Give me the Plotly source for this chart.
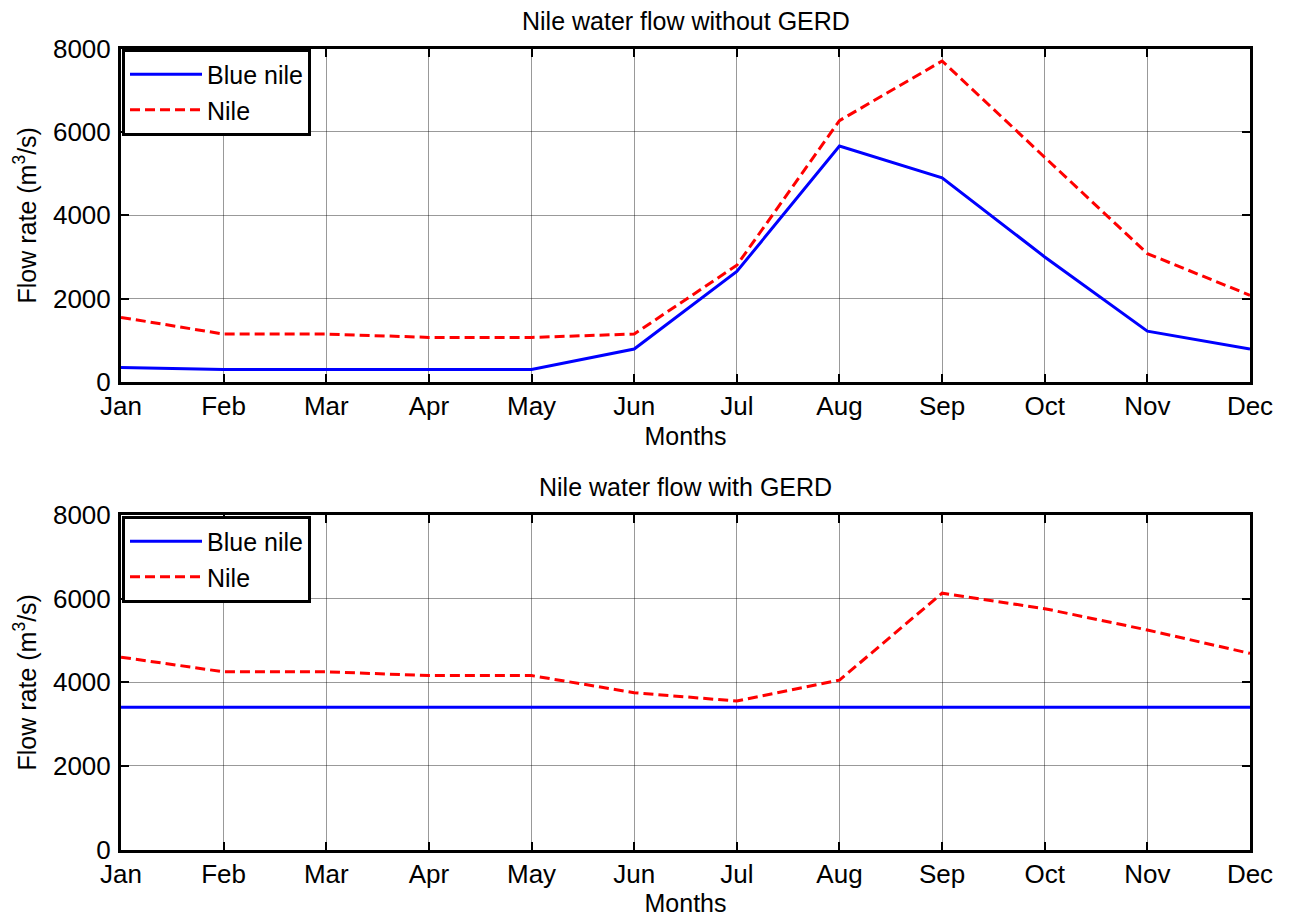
import plotly.graph_objects as go

months = ["Jan", "Feb", "Mar", "Apr", "May", "Jun", "Jul", "Aug", "Sep", "Oct", "Nov", "Dec"]

# Without GERD
blue_without = [350, 300, 300, 300, 300, 790, 2650, 5660, 4900, 3000, 1220, 790]
nile_without = [1550, 1150, 1150, 1070, 1070, 1150, 2800, 6270, 7700, 5400, 3080, 2080]

# With GERD
blue_with = [3400, 3400, 3400, 3400, 3400, 3400, 3400, 3400, 3400, 3400, 3400, 3400]
nile_with = [4600, 4250, 4250, 4160, 4160, 3750, 3550, 4050, 6130, 5760, 5250, 4690]

titles = ["Nile water flow without GERD", "Nile water flow with GERD"]
y_ticks = [0, 2000, 4000, 6000, 8000]

W, H = 1293, 917
FONT = "Liberation Sans, Arial, sans-serif"
FS = 25
TFS = 26

def px_x(p):
    return p / W

def px_y(p):
    return 1 - p / H

fig = go.Figure()

blue_style = dict(color="#0000FF", width=3)
red_style = dict(color="#FF0000", width=3, dash="10px,5px")

fig.add_trace(go.Scatter(x=months, y=blue_without, mode="lines", name="Blue nile",
                         line=blue_style, xaxis="x", yaxis="y", legend="legend"))
fig.add_trace(go.Scatter(x=months, y=nile_without, mode="lines", name="Nile",
                         line=red_style, xaxis="x", yaxis="y", legend="legend"))
fig.add_trace(go.Scatter(x=months, y=blue_with, mode="lines", name="Blue nile",
                         line=blue_style, xaxis="x2", yaxis="y2", legend="legend2"))
fig.add_trace(go.Scatter(x=months, y=nile_with, mode="lines", name="Nile",
                         line=red_style, xaxis="x2", yaxis="y2", legend="legend2"))

x_dom = [px_x(121), px_x(1250)]
y_dom_top = [px_y(382), px_y(48.5)]
y_dom_bot = [px_y(849.5), px_y(515)]

def xaxis_cfg(anchor):
    return dict(
        domain=x_dom, anchor=anchor, type="category", range=[0, 11],
        showline=True, linewidth=3, linecolor="black", mirror="ticks",
        ticks="inside", ticklen=8, tickwidth=2, tickcolor="black",
        showgrid=True, gridcolor="rgba(0,0,0,0.4)", gridwidth=1,
        tickfont=dict(family=FONT, size=TFS, color="black"),
        title=dict(text="Months", font=dict(family=FONT, size=FS, color="black"), standoff=8),
        zeroline=False, automargin=False, ticklabelstandoff=-1,
    )

def yaxis_cfg(anchor, dom):
    return dict(
        domain=dom, anchor=anchor, range=[0, 8000], tickvals=y_ticks,
        showline=True, linewidth=3, linecolor="black", mirror="ticks",
        ticks="inside", ticklen=8, tickwidth=2, tickcolor="black",
        showgrid=True, gridcolor="rgba(0,0,0,0.4)", gridwidth=1,
        tickfont=dict(family=FONT, size=TFS, color="black"),
        title=dict(text="Flow rate (m<sup>3</sup>/s)", font=dict(family=FONT, size=FS, color="black"), standoff=10),
        zeroline=False, automargin=False, ticklabelstandoff=2,
    )

legend_common = dict(
    bgcolor="white", bordercolor="black", borderwidth=3,
    font=dict(family=FONT, size=FS, color="black"),
    xanchor="left", yanchor="top", tracegroupgap=0, itemwidth=72,
)

fig.update_layout(
    width=W, height=H,
    margin=dict(l=0, r=0, t=0, b=0),
    paper_bgcolor="white", plot_bgcolor="white",
    font=dict(family=FONT, size=FS, color="black"),
    xaxis=xaxis_cfg("y"),
    yaxis=yaxis_cfg("x", y_dom_top),
    xaxis2=xaxis_cfg("y2"),
    yaxis2=yaxis_cfg("x2", y_dom_bot),
    legend=dict(x=px_x(122), y=px_y(48.5), **legend_common),
    legend2=dict(x=px_x(122), y=px_y(515.5), **legend_common),
    showlegend=True,
    annotations=[
        dict(text=titles[0], x=(x_dom[0] + x_dom[1]) / 2, y=px_y(20.5), xref="paper", yref="paper",
             xanchor="center", yanchor="middle", showarrow=False,
             font=dict(family=FONT, size=FS, color="black")),
        dict(text=titles[1], x=(x_dom[0] + x_dom[1]) / 2, y=px_y(487), xref="paper", yref="paper",
             xanchor="center", yanchor="middle", showarrow=False,
             font=dict(family=FONT, size=FS, color="black")),
    ],
)

fig.write_html(
    "out.html",
    config={"displayModeBar": False},
    post_script="document.body.style.margin='0';document.body.style.overflow='hidden';",
)
